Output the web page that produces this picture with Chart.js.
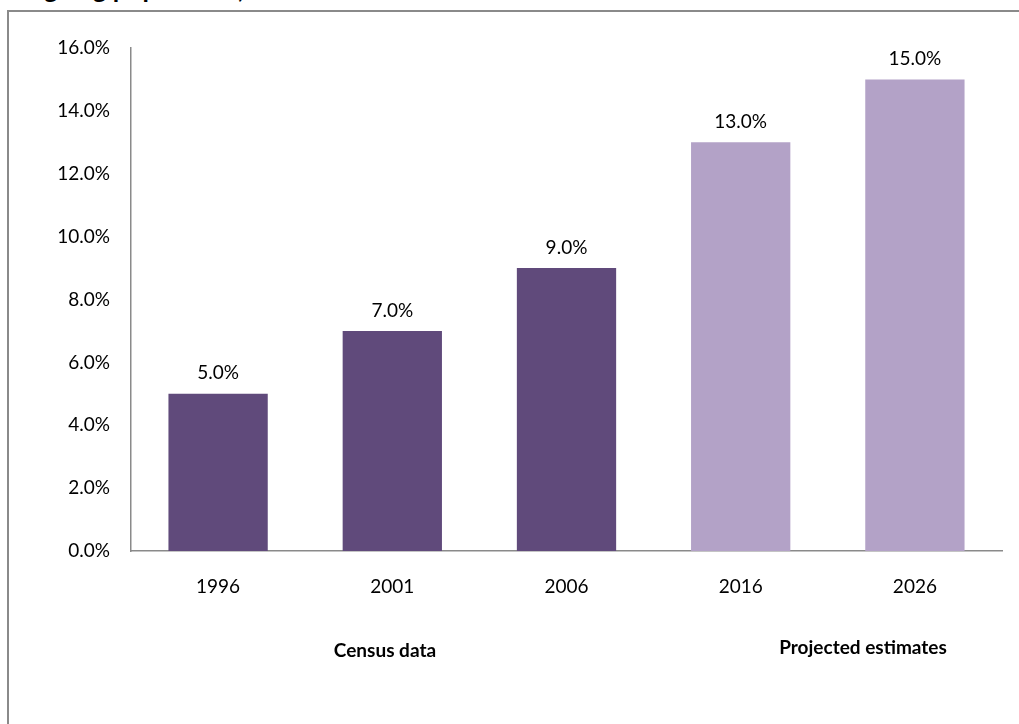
<!DOCTYPE html>
<html>
<head>
<meta charset="utf-8">
<script src="https://cdn.jsdelivr.net/npm/chart.js@4/dist/chart.umd.min.js"></script>
<style>
  html, body { margin: 0; padding: 0; background: #fff; }
  body { width: 1019px; height: 724px; position: relative; overflow: hidden; font-family: Lato, sans-serif; }
  #title { position: absolute; left: 26px; top: -28px; font: bold 26px Lato, sans-serif; color: #000; white-space: nowrap; }
  #frame { position: absolute; left: 7px; top: 10px; width: 1030px; height: 740px; border: 2px solid #8a8a8a; }
  #wrap { position: absolute; left: 0; top: 0; width: 1019px; height: 724px; }
  .note { position: absolute; font: bold 19px Lato, sans-serif; color: #000; white-space: nowrap; transform: translate(-50%, -50%); }
</style>
</head>
<body>
<div id="title">Ageing population, 1996-2026</div>
<div id="frame"></div>
<div id="wrap"><canvas id="grafica"></canvas></div>
<div class="note" style="left:385px; top:649px;">Census data</div>
<div class="note" style="left:863px; top:646px;">Projected estimates</div>
<script>
const years = ['1996', '2001', '2006', '2016', '2026'];
const shares = [5.0, 7.0, 9.0, 13.0, 15.0];
const barColors = ['#604a7b', '#604a7b', '#604a7b', '#b3a2c7', '#b3a2c7'];
const yTicks = [0, 2, 4, 6, 8, 10, 12, 14, 16];

const valueLabels = {
  id: 'valueLabels',
  afterDatasetsDraw(chart) {
    const c = chart.ctx;
    const meta = chart.getDatasetMeta(0);
    c.save();
    c.font = '19px Lato, sans-serif';
    c.fillStyle = '#000';
    c.textAlign = 'center';
    c.textBaseline = 'bottom';
    meta.data.forEach((bar, i) => {
      c.fillText(shares[i].toFixed(1) + '%', bar.x, bar.y - 11);
    });
    c.restore();
  }
};

const ctx = document.getElementById('grafica').getContext('2d');

new Chart(ctx, {
  type: 'bar',
  data: {
    labels: years,
    datasets: [
      {
        data: shares,
        backgroundColor: barColors,
        barPercentage: 0.57,
        categoryPercentage: 1.0
      }
    ]
  },
  options: {
    responsive: true,
    maintainAspectRatio: false,
    animation: false,
    layout: { padding: { top: 48, right: 17, left: 0, bottom: 0 } },
    plugins: {
      legend: { display: false },
      tooltip: { enabled: false }
    },
    scales: {
      y: {
        min: 0,
        max: 16,
        afterFit(scale) { scale.width = 131; },
        afterBuildTicks(scale) { scale.ticks = yTicks.map(v => ({ value: v })); },
        border: { color: '#8a8a8a', width: 1.5 },
        grid: { display: false, drawTicks: false },
        ticks: {
          padding: 21,
          color: '#000',
          font: { family: 'Lato', size: 19 },
          callback: v => v.toFixed(1) + '%'
        }
      },
      x: {
        afterFit(scale) { scale.height = 173; },
        border: { color: '#8a8a8a', width: 1.5 },
        grid: { display: false, drawTicks: false },
        ticks: {
          padding: 24,
          color: '#000',
          font: { family: 'Lato', size: 19 }
        }
      }
    }
  },
  plugins: [valueLabels]
});
</script>
</body>
</html>
